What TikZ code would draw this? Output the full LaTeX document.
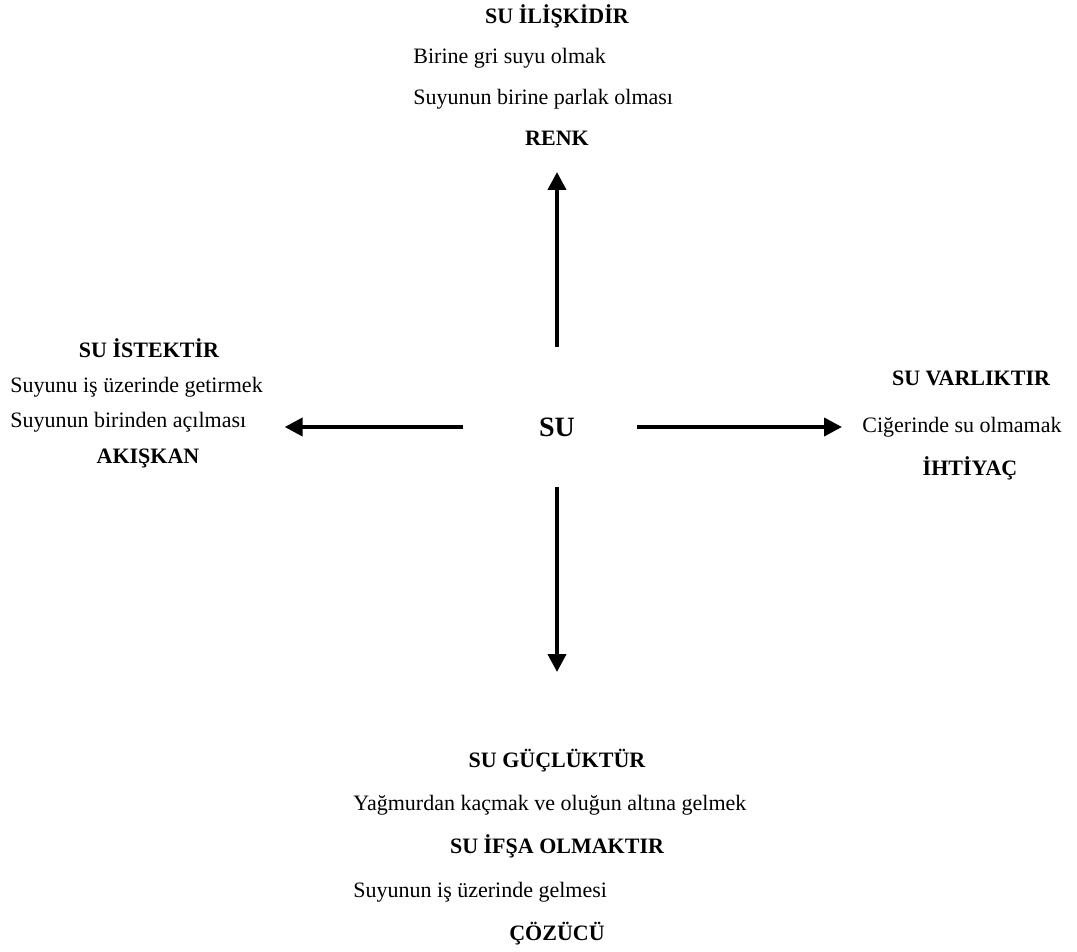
\documentclass[tikz,border=0pt]{standalone}
\usepackage{fontspec}
\setmainfont{Liberation Serif}
\usepackage{tikz}
\usetikzlibrary{arrows.meta,calc}

\tikzset{
  txt/.style={inner sep=0pt, text height=1.6ex, text depth=.3ex, font=\fontsize{11}{13}\selectfont},
  lft/.style={txt, anchor=west},
  head/.style={txt, font=\fontsize{11}{13}\selectfont\bfseries},
  core/.style={inner sep=0pt, font=\fontsize{14}{16}\selectfont\bfseries},
  arr/.style={line width=2pt, -{Triangle[width=9pt,length=9pt]}}
}

\begin{document}
\begin{tikzpicture}[x=0.5pt,y=-0.5pt]
\useasboundingbox (0,0) rectangle (1077,952);

\node[core] (su) at (557,427) {SU};

% top
\node[head] (iliski) at (557,18) {SU İLİŞKİDİR};
\node[lft] (gri) at (413,58) {Birine gri suyu olmak};
\node[lft] (parlak) at (413,99) {Suyunun birine parlak olması};
\node[head] (renk) at (557,140) {RENK};

% left
\node[head] (istek) at (149,352) {SU İSTEKTİR};
\node[lft] (getir) at (10,387) {Suyunu iş üzerinde getirmek};
\node[lft] (acil) at (10,422) {Suyunun birinden açılması};
\node[head] (akiskan) at (148,458) {AKIŞKAN};

% right
\node[head] (varlik) at (971,380) {SU VARLIKTIR};
\node[lft] (ciger) at (862,427) {Ciğerinde su olmamak};
\node[head] (ihtiyac) at (970,470) {İHTİYAÇ};

% bottom
\node[head] (gucluk) at (557,762) {SU GÜÇLÜKTÜR};
\node[lft] (yagmur) at (353,805) {Yağmurdan kaçmak ve oluğun altına gelmek};
\node[head] (ifsa) at (557,848) {SU İFŞA OLMAKTIR};
\node[lft] (gelme) at (353,892) {Suyunun iş üzerinde gelmesi};
\node[head] (cozucu) at (557,935) {ÇÖZÜCÜ};

\draw[arr, shorten <=40pt, shorten >=16pt] (su.center) -- (renk.center);
\draw[arr, shorten <=30pt, shorten >=45pt] (su.center) -- (gucluk.center);
\draw[arr, shorten <=47pt, shorten >=19pt] (su.center) -- (su.center -| acil.east);
\draw[arr, shorten <=40pt, shorten >=10pt] (su.center) -- (su.center -| ciger.west);
\end{tikzpicture}
\end{document}
